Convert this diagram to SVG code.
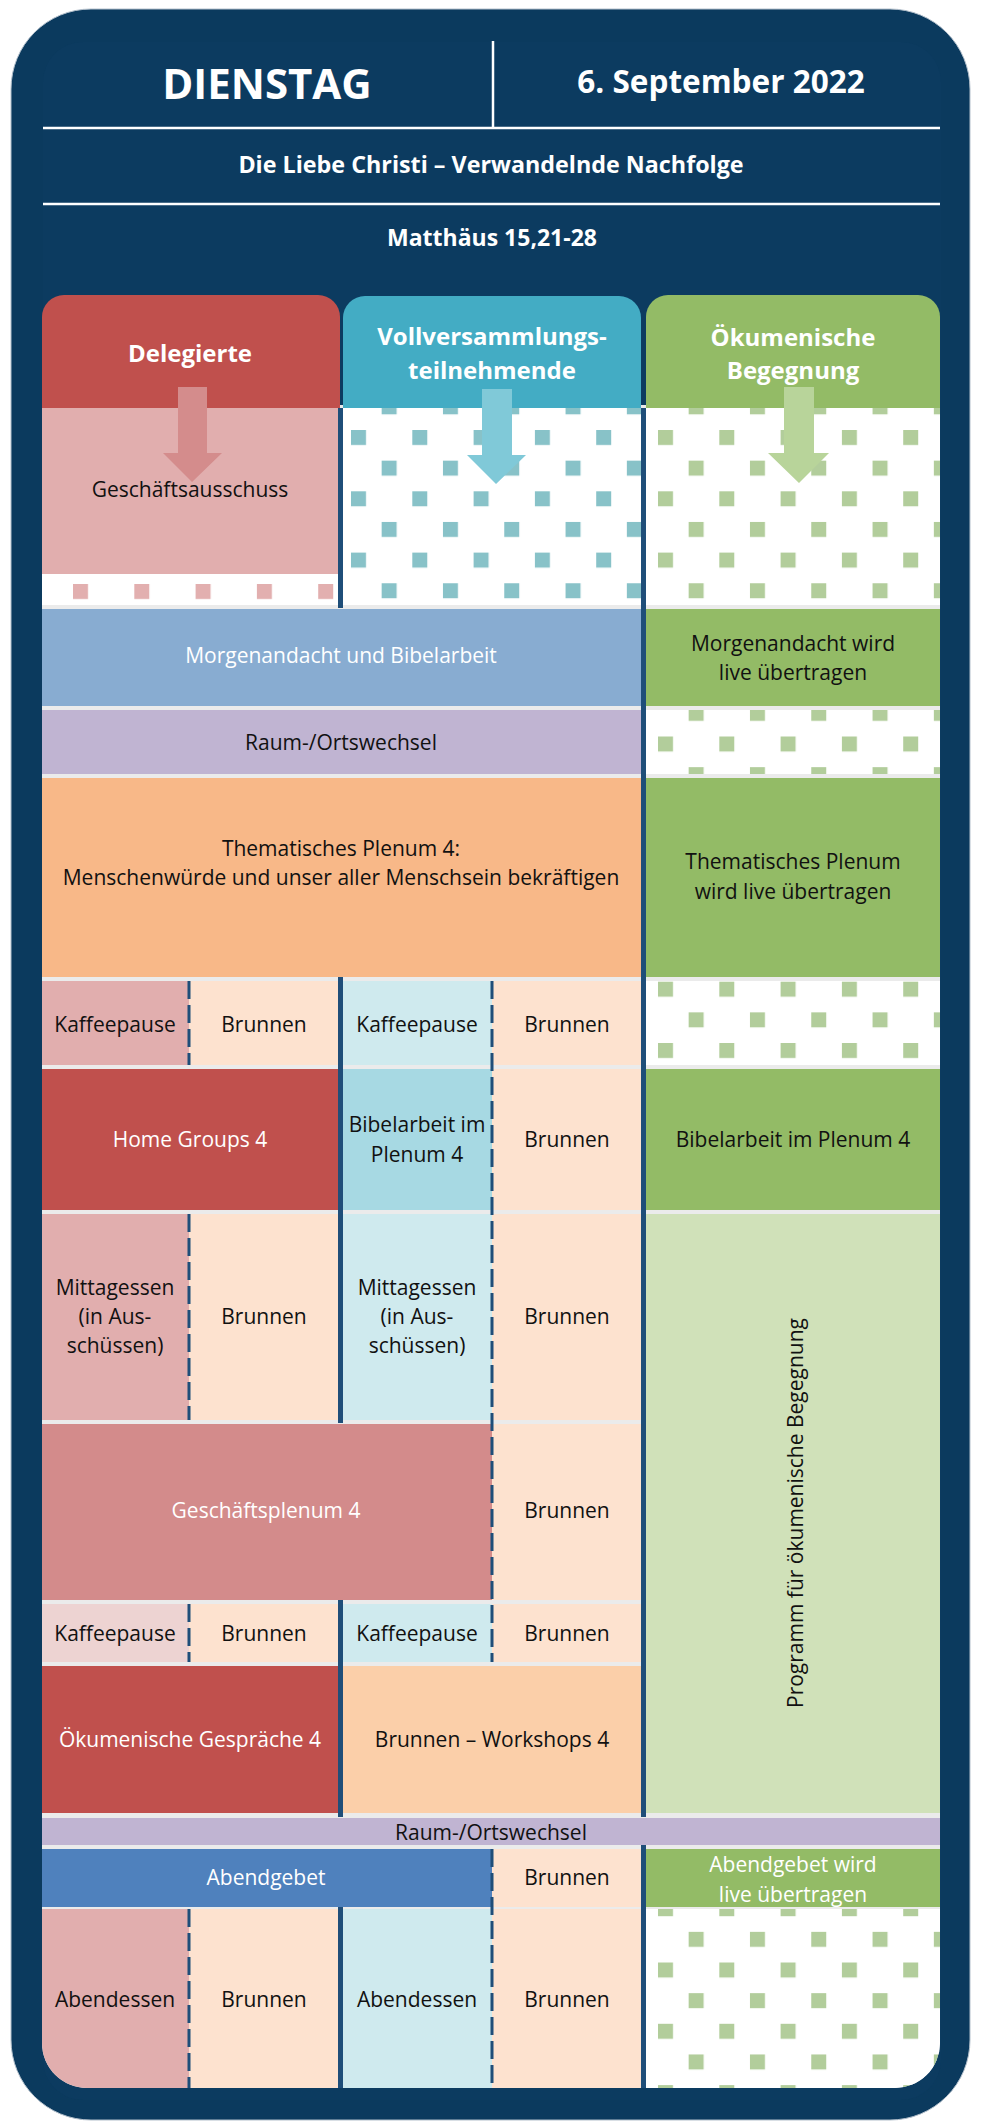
<svg xmlns="http://www.w3.org/2000/svg" width="983" height="2122" viewBox="0 0 983 2122">
<defs>
<style>
.t{font-family:"Open Sans","Liberation Sans",sans-serif;font-size:21px;fill:#111;text-anchor:middle}
.w{fill:#fff}
.hd{font-family:"Open Sans","Liberation Sans",sans-serif;font-weight:bold;fill:#fff;text-anchor:middle}
.dv{fill:#1f4e79}
.dash{stroke:#1f4e79;stroke-width:3;stroke-dasharray:18 6;fill:none}
.hl{stroke:#fff;stroke-width:2.5}
.pink{fill:#e1aeae}
.peach{fill:#fde2cf}
.tl{fill:#cfeaee}
.grn{fill:#93bb66}
</style>
<pattern id="pTeal" patternUnits="userSpaceOnUse" x="351" y="430" width="61.3" height="61.3">
<rect width="61.3" height="61.3" fill="#fff"/><rect width="15" height="15" fill="#88c2c8"/><rect x="30.65" y="30.65" width="15" height="15" fill="#88c2c8"/>
</pattern>
<pattern id="pGreen" patternUnits="userSpaceOnUse" x="658" y="430" width="61.3" height="61.3">
<rect width="61.3" height="61.3" fill="#fff"/><rect width="15" height="15" fill="#b2cd9b"/><rect x="30.65" y="30.65" width="15" height="15" fill="#b2cd9b"/>
</pattern>
<pattern id="pPink" patternUnits="userSpaceOnUse" x="73" y="584" width="61.3" height="61.3">
<rect width="61.3" height="61.3" fill="#fff"/><rect width="15" height="15" fill="#e2afaf"/><rect x="30.65" y="30.65" width="15" height="15" fill="#e2afaf"/>
</pattern>
<clipPath id="content"><path d="M42 290 H940 V2043 A45 45 0 0 1 895 2088 H87 A45 45 0 0 1 42 2043 Z"/></clipPath>
</defs>

<rect x="11" y="9" width="959" height="2111" rx="80" fill="#0b3a5e" stroke="#b4c0cc" stroke-width="1"/>
<rect x="43" y="42" width="898" height="2058" rx="40" fill="#0c3b60"/>

<g id="header">
<line class="hl" x1="493" y1="41" x2="493" y2="128"/>
<line class="hl" x1="43" y1="128" x2="940" y2="128"/>
<line class="hl" x1="43" y1="204" x2="940" y2="204"/>
<text class="hd" x="267" y="99" font-size="42">DIENSTAG</text>
<text class="hd" x="721" y="93" font-size="31.5">6. September 2022</text>
<text class="hd" x="491" y="173" font-size="23.3">Die Liebe Christi – Verwandelnde Nachfolge</text>
<text class="hd" x="492" y="246" font-size="23">Matthäus 15,21-28</text>
</g>

<g clip-path="url(#content)">
<rect x="42" y="405" width="898" height="1690" fill="#ebebeb"/>

<g id="col-heads">
<g id="head-delegierte"><path d="M42 408 V317 A22 22 0 0 1 64 295 H318 A22 22 0 0 1 340 317 V408 Z" fill="#c0504d"/><text class="hd" x="190" y="362" font-size="24">Delegierte</text></g>
<g id="head-voll"><path d="M343 408 V318 A22 22 0 0 1 365 296 H619 A22 22 0 0 1 641 318 V408 Z" fill="#43acc4"/><text class="hd" x="492" y="345" font-size="24">Vollversammlungs-</text><text class="hd" x="492" y="379" font-size="24">teilnehmende</text></g>
<g id="head-oek"><path d="M646 408 V317 A22 22 0 0 1 668 295 H918 A22 22 0 0 1 940 317 V408 Z" class="grn"/><text class="hd" x="793" y="346" font-size="24">Ökumenische</text><text class="hd" x="793" y="379" font-size="24">Begegnung</text></g>
</g>

<g id="row1">
<g id="geschaeftsausschuss"><rect x="42" y="408" width="296" height="166" class="pink"/><text class="t" x="190" y="497">Geschäftsausschuss</text></g>
<rect x="42" y="574" width="296" height="31" fill="url(#pPink)"/>
<rect x="343" y="408" width="298" height="197" fill="url(#pTeal)"/>
<rect x="646" y="408" width="294" height="197" fill="url(#pGreen)"/>
</g>

<g id="morgenandacht"><rect x="42" y="609" width="599" height="97" fill="#88acd1"/><text class="t w" x="341" y="663">Morgenandacht und Bibelarbeit</text></g>
<g id="morgenandacht-live"><rect x="646" y="609" width="294" height="97" class="grn"/><text class="t" x="793" y="651">Morgenandacht wird</text><text class="t" x="793" y="680">live übertragen</text></g>

<g id="raumwechsel-1"><rect x="42" y="710" width="599" height="64" fill="#c0b4d2"/><text class="t" x="341" y="750">Raum-/Ortswechsel</text></g>
<rect x="646" y="710" width="294" height="64" fill="url(#pGreen)"/>

<g id="plenum"><rect x="42" y="778" width="599" height="199" fill="#f8b888"/><text class="t" x="341" y="856">Thematisches Plenum 4:</text><text class="t" x="341" y="885">Menschenwürde und unser aller Menschsein bekräftigen</text></g>
<g id="plenum-live"><rect x="646" y="778" width="294" height="199" class="grn"/><text class="t" x="793" y="869">Thematisches Plenum</text><text class="t" x="793" y="899">wird live übertragen</text></g>

<g id="row-kaffee-1">
<g id="kaffee-a1"><rect x="42" y="981" width="147" height="84" class="pink"/><text class="t" x="115" y="1032">Kaffeepause</text></g>
<g id="brunnen-a1"><rect x="189" y="981" width="149" height="84" class="peach"/><text class="t" x="264" y="1032">Brunnen</text></g>
<g id="kaffee-b1"><rect x="343" y="981" width="149" height="84" class="tl"/><text class="t" x="417" y="1032">Kaffeepause</text></g>
<g id="brunnen-b1"><rect x="492" y="981" width="149" height="84" class="peach"/><text class="t" x="567" y="1032">Brunnen</text></g>
<rect x="646" y="981" width="294" height="84" fill="url(#pGreen)"/>
</g>

<g id="row-homegroups">
<g id="homegroups"><rect x="42" y="1069" width="296" height="141" fill="#c0504d"/><text class="t w" x="190" y="1147">Home Groups 4</text></g>
<g id="bibelarbeit-b"><rect x="343" y="1069" width="149" height="141" fill="#a7d9e3"/><text class="t" x="417" y="1132">Bibelarbeit im</text><text class="t" x="417" y="1162">Plenum 4</text></g>
<g id="brunnen-b2"><rect x="492" y="1069" width="149" height="141" class="peach"/><text class="t" x="567" y="1147">Brunnen</text></g>
<g id="bibelarbeit-live"><rect x="646" y="1069" width="294" height="141" class="grn"/><text class="t" x="793" y="1147">Bibelarbeit im Plenum 4</text></g>
</g>

<g id="row-mittag">
<g id="mittag-a"><rect x="42" y="1214" width="147" height="206" class="pink"/><text class="t" x="115" y="1295">Mittagessen</text><text class="t" x="115" y="1324">(in Aus-</text><text class="t" x="115" y="1353">schüssen)</text></g>
<g id="brunnen-a2"><rect x="189" y="1214" width="149" height="206" class="peach"/><text class="t" x="264" y="1324">Brunnen</text></g>
<g id="mittag-b"><rect x="343" y="1214" width="149" height="206" class="tl"/><text class="t" x="417" y="1295">Mittagessen</text><text class="t" x="417" y="1324">(in Aus-</text><text class="t" x="417" y="1353">schüssen)</text></g>
<g id="brunnen-b3"><rect x="492" y="1214" width="149" height="206" class="peach"/><text class="t" x="567" y="1324">Brunnen</text></g>
</g>

<g id="programm-oek"><rect x="646" y="1214" width="294" height="599" fill="#d0e1b9"/><text class="t" transform="translate(803,1513) rotate(-90)">Programm für ökumenische Begegnung</text></g>

<g id="row-geschaeftsplenum">
<g id="geschaeftsplenum"><rect x="42" y="1424" width="450" height="176" fill="#d38b8b"/><text class="t w" x="266" y="1518">Geschäftsplenum 4</text></g>
<g id="brunnen-b4"><rect x="492" y="1424" width="149" height="176" class="peach"/><text class="t" x="567" y="1518">Brunnen</text></g>
</g>

<g id="row-kaffee-2">
<g id="kaffee-a2"><rect x="42" y="1604" width="147" height="58" fill="#edd3d2"/><text class="t" x="115" y="1641">Kaffeepause</text></g>
<g id="brunnen-a3"><rect x="189" y="1604" width="149" height="58" class="peach"/><text class="t" x="264" y="1641">Brunnen</text></g>
<g id="kaffee-b2"><rect x="343" y="1604" width="149" height="58" class="tl"/><text class="t" x="417" y="1641">Kaffeepause</text></g>
<g id="brunnen-b5"><rect x="492" y="1604" width="149" height="58" class="peach"/><text class="t" x="567" y="1641">Brunnen</text></g>
</g>

<g id="row-oek-gespraeche">
<g id="oek-gespraeche"><rect x="42" y="1666" width="296" height="147" fill="#c0504d"/><text class="t w" x="190" y="1747">Ökumenische Gespräche 4</text></g>
<g id="brunnen-workshops"><rect x="343" y="1666" width="298" height="147" fill="#fbcfa9"/><text class="t" x="492" y="1747">Brunnen – Workshops 4</text></g>
</g>

<g id="raumwechsel-2"><rect x="42" y="1818" width="898" height="27" fill="#c0b4d2"/><text class="t" x="491" y="1840">Raum-/Ortswechsel</text></g>

<g id="row-abendgebet">
<g id="abendgebet"><rect x="42" y="1849" width="450" height="58" fill="#4f81bd"/><text class="t w" x="266" y="1885">Abendgebet</text></g>
<g id="brunnen-b6"><rect x="492" y="1849" width="149" height="58" class="peach"/><text class="t" x="567" y="1885">Brunnen</text></g>
<g id="abendgebet-live"><rect x="646" y="1849" width="294" height="58" class="grn"/><text class="t w" x="793" y="1872">Abendgebet wird</text><text class="t w" x="793" y="1902">live übertragen</text></g>
</g>

<g id="row-abendessen">
<g id="abendessen-a"><rect x="42" y="1909" width="147" height="185" class="pink"/><text class="t" x="115" y="2007">Abendessen</text></g>
<g id="brunnen-a4"><rect x="189" y="1909" width="149" height="185" class="peach"/><text class="t" x="264" y="2007">Brunnen</text></g>
<g id="abendessen-b"><rect x="343" y="1909" width="149" height="185" class="tl"/><text class="t" x="417" y="2007">Abendessen</text></g>
<g id="brunnen-b7"><rect x="492" y="1909" width="149" height="185" class="peach"/><text class="t" x="567" y="2007">Brunnen</text></g>
<rect x="646" y="1909" width="294" height="185" fill="url(#pGreen)"/>
</g>

<g id="dividers">
<rect class="dv" x="338" y="408" width="5" height="200"/>
<rect class="dv" x="338" y="977" width="5" height="446"/>
<rect class="dv" x="338" y="1600" width="5" height="217"/>
<rect class="dv" x="338" y="1907" width="5" height="190"/>
<rect class="dv" x="641" y="408" width="5" height="1409"/>
<rect class="dv" x="641" y="1845" width="5" height="250"/>
<line class="dash" x1="189" y1="981" x2="189" y2="1065"/>
<line class="dash" x1="189" y1="1214" x2="189" y2="1420"/>
<line class="dash" x1="189" y1="1604" x2="189" y2="1662"/>
<line class="dash" x1="189" y1="1909" x2="189" y2="2090"/>
<line class="dash" x1="492" y1="981" x2="492" y2="1662"/>
<line class="dash" x1="492" y1="1849" x2="492" y2="2090"/>
</g>
</g>

<g id="connectors">
<path d="M178 387 H207 V453 H222 L192 482 L163 453 H178 Z" fill="#d48c8c"/>
<path d="M482 389 H512 V455 H526 L496 484 L467 455 H482 Z" fill="#80c9d8"/>
<path d="M784 387 H814 V453 H829 L799 483 L768 453 H784 Z" fill="#b8d49a"/>
</g>
</svg>
